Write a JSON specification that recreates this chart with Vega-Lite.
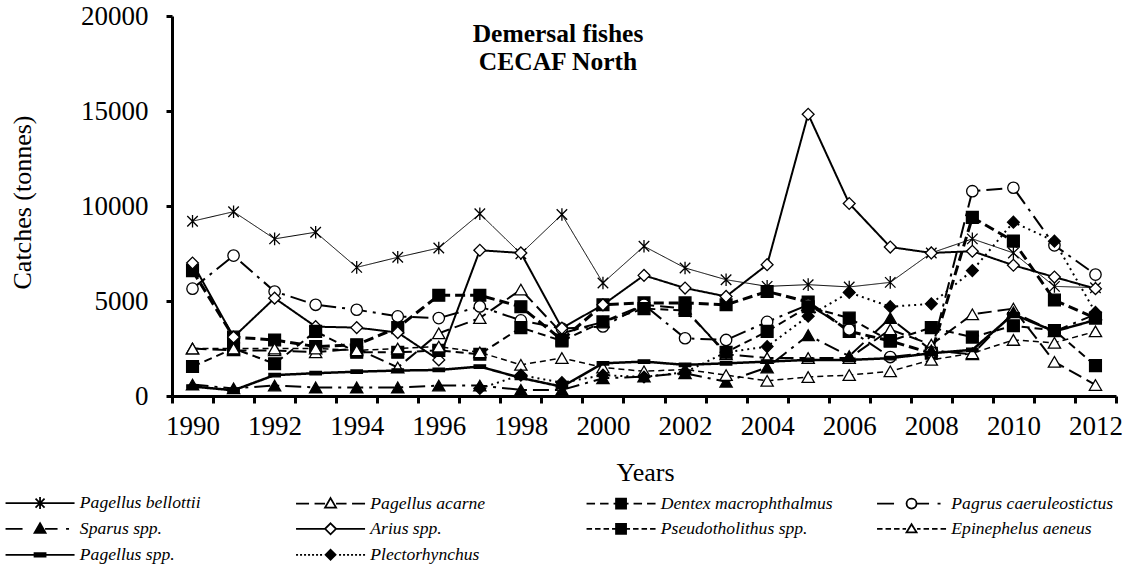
{
  "$schema": "https://vega.github.io/schema/vega-lite/v6.json",
  "width": 944,
  "height": 380,
  "autosize": "none",
  "padding": {"left": 172, "top": 16, "right": 23, "bottom": 174},
  "background": "white",
  "datasets": {
    "catches": [
      {"species": "Pagellus bellottii", "year": 1990, "catch": 9200}, {"species": "Pagellus bellottii", "year": 1991, "catch": 9700}, {"species": "Pagellus bellottii", "year": 1992, "catch": 8270}, {"species": "Pagellus bellottii", "year": 1993, "catch": 8620}, {"species": "Pagellus bellottii", "year": 1994, "catch": 6770}, {"species": "Pagellus bellottii", "year": 1995, "catch": 7300}, {"species": "Pagellus bellottii", "year": 1996, "catch": 7790}, {"species": "Pagellus bellottii", "year": 1997, "catch": 9590}, {"species": "Pagellus bellottii", "year": 1998, "catch": 7490}, {"species": "Pagellus bellottii", "year": 1999, "catch": 9550}, {"species": "Pagellus bellottii", "year": 2000, "catch": 5950}, {"species": "Pagellus bellottii", "year": 2001, "catch": 7880}, {"species": "Pagellus bellottii", "year": 2002, "catch": 6740}, {"species": "Pagellus bellottii", "year": 2003, "catch": 6120}, {"species": "Pagellus bellottii", "year": 2004, "catch": 5770}, {"species": "Pagellus bellottii", "year": 2005, "catch": 5860}, {"species": "Pagellus bellottii", "year": 2006, "catch": 5740}, {"species": "Pagellus bellottii", "year": 2007, "catch": 5980}, {"species": "Pagellus bellottii", "year": 2008, "catch": 7530}, {"species": "Pagellus bellottii", "year": 2009, "catch": 8270}, {"species": "Pagellus bellottii", "year": 2010, "catch": 7530}, {"species": "Pagellus bellottii", "year": 2011, "catch": 5770}, {"species": "Pagellus bellottii", "year": 2012, "catch": 5700},
      {"species": "Pagellus acarne", "year": 1990, "catch": 2500}, {"species": "Pagellus acarne", "year": 1991, "catch": 2400}, {"species": "Pagellus acarne", "year": 1992, "catch": 2400}, {"species": "Pagellus acarne", "year": 1993, "catch": 2300}, {"species": "Pagellus acarne", "year": 1994, "catch": 2500}, {"species": "Pagellus acarne", "year": 1995, "catch": 1500}, {"species": "Pagellus acarne", "year": 1996, "catch": 3300}, {"species": "Pagellus acarne", "year": 1997, "catch": 4100}, {"species": "Pagellus acarne", "year": 1998, "catch": 5600}, {"species": "Pagellus acarne", "year": 1999, "catch": 3300}, {"species": "Pagellus acarne", "year": 2000, "catch": 3900}, {"species": "Pagellus acarne", "year": 2001, "catch": 4800}, {"species": "Pagellus acarne", "year": 2002, "catch": 4600}, {"species": "Pagellus acarne", "year": 2003, "catch": 2200}, {"species": "Pagellus acarne", "year": 2004, "catch": 2000}, {"species": "Pagellus acarne", "year": 2005, "catch": 2000}, {"species": "Pagellus acarne", "year": 2006, "catch": 2000}, {"species": "Pagellus acarne", "year": 2007, "catch": 3500}, {"species": "Pagellus acarne", "year": 2008, "catch": 2700}, {"species": "Pagellus acarne", "year": 2009, "catch": 4300}, {"species": "Pagellus acarne", "year": 2010, "catch": 4600}, {"species": "Pagellus acarne", "year": 2011, "catch": 1800}, {"species": "Pagellus acarne", "year": 2012, "catch": 580},
      {"species": "Dentex macrophthalmus", "year": 1990, "catch": 6600}, {"species": "Dentex macrophthalmus", "year": 1991, "catch": 3100}, {"species": "Dentex macrophthalmus", "year": 1992, "catch": 2950}, {"species": "Dentex macrophthalmus", "year": 1993, "catch": 2600}, {"species": "Dentex macrophthalmus", "year": 1994, "catch": 2700}, {"species": "Dentex macrophthalmus", "year": 1995, "catch": 3600}, {"species": "Dentex macrophthalmus", "year": 1996, "catch": 5300}, {"species": "Dentex macrophthalmus", "year": 1997, "catch": 5300}, {"species": "Dentex macrophthalmus", "year": 1998, "catch": 4700}, {"species": "Dentex macrophthalmus", "year": 1999, "catch": 2950}, {"species": "Dentex macrophthalmus", "year": 2000, "catch": 4800}, {"species": "Dentex macrophthalmus", "year": 2001, "catch": 4900}, {"species": "Dentex macrophthalmus", "year": 2002, "catch": 4900}, {"species": "Dentex macrophthalmus", "year": 2003, "catch": 4800}, {"species": "Dentex macrophthalmus", "year": 2004, "catch": 5500}, {"species": "Dentex macrophthalmus", "year": 2005, "catch": 4950}, {"species": "Dentex macrophthalmus", "year": 2006, "catch": 3400}, {"species": "Dentex macrophthalmus", "year": 2007, "catch": 2900}, {"species": "Dentex macrophthalmus", "year": 2008, "catch": 2250}, {"species": "Dentex macrophthalmus", "year": 2009, "catch": 9400}, {"species": "Dentex macrophthalmus", "year": 2010, "catch": 8150}, {"species": "Dentex macrophthalmus", "year": 2011, "catch": 5050}, {"species": "Dentex macrophthalmus", "year": 2012, "catch": 4100},
      {"species": "Pagrus caeruleostictus", "year": 1990, "catch": 5650}, {"species": "Pagrus caeruleostictus", "year": 1991, "catch": 7390}, {"species": "Pagrus caeruleostictus", "year": 1992, "catch": 5500}, {"species": "Pagrus caeruleostictus", "year": 1993, "catch": 4800}, {"species": "Pagrus caeruleostictus", "year": 1994, "catch": 4540}, {"species": "Pagrus caeruleostictus", "year": 1995, "catch": 4190}, {"species": "Pagrus caeruleostictus", "year": 1996, "catch": 4100}, {"species": "Pagrus caeruleostictus", "year": 1997, "catch": 4710}, {"species": "Pagrus caeruleostictus", "year": 1998, "catch": 3980}, {"species": "Pagrus caeruleostictus", "year": 1999, "catch": 3550}, {"species": "Pagrus caeruleostictus", "year": 2000, "catch": 3660}, {"species": "Pagrus caeruleostictus", "year": 2001, "catch": 4800}, {"species": "Pagrus caeruleostictus", "year": 2002, "catch": 3040}, {"species": "Pagrus caeruleostictus", "year": 2003, "catch": 2950}, {"species": "Pagrus caeruleostictus", "year": 2004, "catch": 3900}, {"species": "Pagrus caeruleostictus", "year": 2005, "catch": 4800}, {"species": "Pagrus caeruleostictus", "year": 2006, "catch": 3500}, {"species": "Pagrus caeruleostictus", "year": 2007, "catch": 2050}, {"species": "Pagrus caeruleostictus", "year": 2008, "catch": 2300}, {"species": "Pagrus caeruleostictus", "year": 2009, "catch": 10780}, {"species": "Pagrus caeruleostictus", "year": 2010, "catch": 10960}, {"species": "Pagrus caeruleostictus", "year": 2011, "catch": 7930}, {"species": "Pagrus caeruleostictus", "year": 2012, "catch": 6390},
      {"species": "Sparus spp.", "year": 1990, "catch": 600}, {"species": "Sparus spp.", "year": 1991, "catch": 400}, {"species": "Sparus spp.", "year": 1992, "catch": 550}, {"species": "Sparus spp.", "year": 1993, "catch": 450}, {"species": "Sparus spp.", "year": 1994, "catch": 450}, {"species": "Sparus spp.", "year": 1995, "catch": 450}, {"species": "Sparus spp.", "year": 1996, "catch": 550}, {"species": "Sparus spp.", "year": 1997, "catch": 550}, {"species": "Sparus spp.", "year": 1998, "catch": 320}, {"species": "Sparus spp.", "year": 1999, "catch": 320}, {"species": "Sparus spp.", "year": 2000, "catch": 930}, {"species": "Sparus spp.", "year": 2001, "catch": 1020}, {"species": "Sparus spp.", "year": 2002, "catch": 1200}, {"species": "Sparus spp.", "year": 2003, "catch": 750}, {"species": "Sparus spp.", "year": 2004, "catch": 1500}, {"species": "Sparus spp.", "year": 2005, "catch": 3200}, {"species": "Sparus spp.", "year": 2006, "catch": 2100}, {"species": "Sparus spp.", "year": 2007, "catch": 4100}, {"species": "Sparus spp.", "year": 2008, "catch": 2400}, {"species": "Sparus spp.", "year": 2009, "catch": 2200}, {"species": "Sparus spp.", "year": 2010, "catch": 4400}, {"species": "Sparus spp.", "year": 2011, "catch": 3400}, {"species": "Sparus spp.", "year": 2012, "catch": 4300},
      {"species": "Arius spp.", "year": 1990, "catch": 7000}, {"species": "Arius spp.", "year": 1991, "catch": 3100}, {"species": "Arius spp.", "year": 1992, "catch": 5150}, {"species": "Arius spp.", "year": 1993, "catch": 3650}, {"species": "Arius spp.", "year": 1994, "catch": 3600}, {"species": "Arius spp.", "year": 1995, "catch": 3340}, {"species": "Arius spp.", "year": 1996, "catch": 1900}, {"species": "Arius spp.", "year": 1997, "catch": 7670}, {"species": "Arius spp.", "year": 1998, "catch": 7530}, {"species": "Arius spp.", "year": 1999, "catch": 3570}, {"species": "Arius spp.", "year": 2000, "catch": 4800}, {"species": "Arius spp.", "year": 2001, "catch": 6350}, {"species": "Arius spp.", "year": 2002, "catch": 5680}, {"species": "Arius spp.", "year": 2003, "catch": 5240}, {"species": "Arius spp.", "year": 2004, "catch": 6910}, {"species": "Arius spp.", "year": 2005, "catch": 14830}, {"species": "Arius spp.", "year": 2006, "catch": 10130}, {"species": "Arius spp.", "year": 2007, "catch": 7840}, {"species": "Arius spp.", "year": 2008, "catch": 7530}, {"species": "Arius spp.", "year": 2009, "catch": 7620}, {"species": "Arius spp.", "year": 2010, "catch": 6880}, {"species": "Arius spp.", "year": 2011, "catch": 6260}, {"species": "Arius spp.", "year": 2012, "catch": 5650},
      {"species": "Pseudotholithus spp.", "year": 1990, "catch": 1550}, {"species": "Pseudotholithus spp.", "year": 1991, "catch": 2500}, {"species": "Pseudotholithus spp.", "year": 1992, "catch": 1700}, {"species": "Pseudotholithus spp.", "year": 1993, "catch": 3400}, {"species": "Pseudotholithus spp.", "year": 1994, "catch": 2300}, {"species": "Pseudotholithus spp.", "year": 1995, "catch": 2300}, {"species": "Pseudotholithus spp.", "year": 1996, "catch": 2400}, {"species": "Pseudotholithus spp.", "year": 1997, "catch": 2200}, {"species": "Pseudotholithus spp.", "year": 1998, "catch": 3600}, {"species": "Pseudotholithus spp.", "year": 1999, "catch": 2900}, {"species": "Pseudotholithus spp.", "year": 2000, "catch": 3900}, {"species": "Pseudotholithus spp.", "year": 2001, "catch": 4600}, {"species": "Pseudotholithus spp.", "year": 2002, "catch": 4500}, {"species": "Pseudotholithus spp.", "year": 2003, "catch": 2300}, {"species": "Pseudotholithus spp.", "year": 2004, "catch": 3400}, {"species": "Pseudotholithus spp.", "year": 2005, "catch": 4700}, {"species": "Pseudotholithus spp.", "year": 2006, "catch": 4100}, {"species": "Pseudotholithus spp.", "year": 2007, "catch": 2900}, {"species": "Pseudotholithus spp.", "year": 2008, "catch": 3600}, {"species": "Pseudotholithus spp.", "year": 2009, "catch": 3100}, {"species": "Pseudotholithus spp.", "year": 2010, "catch": 3700}, {"species": "Pseudotholithus spp.", "year": 2011, "catch": 3450}, {"species": "Pseudotholithus spp.", "year": 2012, "catch": 1600},
      {"species": "Epinephelus aeneus", "year": 1990, "catch": 2500}, {"species": "Epinephelus aeneus", "year": 1991, "catch": 2500}, {"species": "Epinephelus aeneus", "year": 1992, "catch": 2500}, {"species": "Epinephelus aeneus", "year": 1993, "catch": 2500}, {"species": "Epinephelus aeneus", "year": 1994, "catch": 2400}, {"species": "Epinephelus aeneus", "year": 1995, "catch": 2500}, {"species": "Epinephelus aeneus", "year": 1996, "catch": 2600}, {"species": "Epinephelus aeneus", "year": 1997, "catch": 2300}, {"species": "Epinephelus aeneus", "year": 1998, "catch": 1640}, {"species": "Epinephelus aeneus", "year": 1999, "catch": 2000}, {"species": "Epinephelus aeneus", "year": 2000, "catch": 1500}, {"species": "Epinephelus aeneus", "year": 2001, "catch": 1300}, {"species": "Epinephelus aeneus", "year": 2002, "catch": 1400}, {"species": "Epinephelus aeneus", "year": 2003, "catch": 1100}, {"species": "Epinephelus aeneus", "year": 2004, "catch": 800}, {"species": "Epinephelus aeneus", "year": 2005, "catch": 1000}, {"species": "Epinephelus aeneus", "year": 2006, "catch": 1100}, {"species": "Epinephelus aeneus", "year": 2007, "catch": 1300}, {"species": "Epinephelus aeneus", "year": 2008, "catch": 1900}, {"species": "Epinephelus aeneus", "year": 2009, "catch": 2250}, {"species": "Epinephelus aeneus", "year": 2010, "catch": 2950}, {"species": "Epinephelus aeneus", "year": 2011, "catch": 2800}, {"species": "Epinephelus aeneus", "year": 2012, "catch": 3400},
      {"species": "Pagellus spp.", "year": 1990, "catch": 500}, {"species": "Pagellus spp.", "year": 1991, "catch": 300}, {"species": "Pagellus spp.", "year": 1992, "catch": 1100}, {"species": "Pagellus spp.", "year": 1993, "catch": 1200}, {"species": "Pagellus spp.", "year": 1994, "catch": 1280}, {"species": "Pagellus spp.", "year": 1995, "catch": 1340}, {"species": "Pagellus spp.", "year": 1996, "catch": 1370}, {"species": "Pagellus spp.", "year": 1997, "catch": 1550}, {"species": "Pagellus spp.", "year": 1998, "catch": 950}, {"species": "Pagellus spp.", "year": 1999, "catch": 490}, {"species": "Pagellus spp.", "year": 2000, "catch": 1720}, {"species": "Pagellus spp.", "year": 2001, "catch": 1810}, {"species": "Pagellus spp.", "year": 2002, "catch": 1640}, {"species": "Pagellus spp.", "year": 2003, "catch": 1720}, {"species": "Pagellus spp.", "year": 2004, "catch": 1810}, {"species": "Pagellus spp.", "year": 2005, "catch": 1900}, {"species": "Pagellus spp.", "year": 2006, "catch": 1900}, {"species": "Pagellus spp.", "year": 2007, "catch": 1990}, {"species": "Pagellus spp.", "year": 2008, "catch": 2250}, {"species": "Pagellus spp.", "year": 2009, "catch": 2430}, {"species": "Pagellus spp.", "year": 2010, "catch": 4300}, {"species": "Pagellus spp.", "year": 2011, "catch": 3400}, {"species": "Pagellus spp.", "year": 2012, "catch": 4000},
      {"species": "Plectorhynchus", "year": 1997, "catch": 400}, {"species": "Plectorhynchus", "year": 1998, "catch": 1100}, {"species": "Plectorhynchus", "year": 1999, "catch": 700}, {"species": "Plectorhynchus", "year": 2000, "catch": 1100}, {"species": "Plectorhynchus", "year": 2001, "catch": 1000}, {"species": "Plectorhynchus", "year": 2002, "catch": 1250}, {"species": "Plectorhynchus", "year": 2003, "catch": 2300}, {"species": "Plectorhynchus", "year": 2004, "catch": 2600}, {"species": "Plectorhynchus", "year": 2005, "catch": 4200}, {"species": "Plectorhynchus", "year": 2006, "catch": 5450}, {"species": "Plectorhynchus", "year": 2007, "catch": 4700}, {"species": "Plectorhynchus", "year": 2008, "catch": 4850}, {"species": "Plectorhynchus", "year": 2009, "catch": 6600}, {"species": "Plectorhynchus", "year": 2010, "catch": 9150}, {"species": "Plectorhynchus", "year": 2011, "catch": 8150}, {"species": "Plectorhynchus", "year": 2012, "catch": 4400}
    ]
  },
  "data": {"name": "catches"},
  "title": {
    "text": ["Demersal fishes", "CECAF North"],
    "font": "Liberation Serif",
    "fontSize": 25.5,
    "fontWeight": "bold",
    "color": "black",
    "anchor": "middle",
    "baseline": "top",
    "lineHeight": 28,
    "dx": -86,
    "dy": 69,
    "offset": -4
  },
  "encoding": {
    "x": {
      "field": "year", "type": "ordinal",
      "scale": {"type": "band", "paddingInner": 0, "paddingOuter": 0},
      "title": "Years",
      "axis": {
        "tickBand": "extent", "labelAngle": 0,
        "labelExpr": "datum.value % 2 == 0 ? datum.label : ''",
        "tickSize": 7, "tickWidth": 3, "domainWidth": 3, "labelPadding": 10,
        "labelFont": "Liberation Serif", "labelFontSize": 27, "labelColor": "black",
        "titleFont": "Liberation Serif", "titleFontSize": 26, "titleFontWeight": "normal", "titleColor": "black",
        "titleX": 473, "titleY": 76, "titleBaseline": "middle", "titleAlign": "center",
        "domainColor": "black", "tickColor": "black", "grid": false
      }
    },
    "y": {
      "field": "catch", "type": "quantitative",
      "scale": {"domain": [0, 20000], "nice": false},
      "title": "Catches (tonnes)",
      "axis": {
        "values": [0, 5000, 10000, 15000, 20000], "format": "d",
        "tickSize": 6, "tickWidth": 3, "domainWidth": 3, "labelPadding": 18,
        "labelFont": "Liberation Serif", "labelFontSize": 27, "labelColor": "black",
        "titleFont": "Liberation Serif", "titleFontSize": 26, "titleFontWeight": "normal", "titleColor": "black",
        "titleX": -150, "titleY": 186, "titleBaseline": "middle", "titleAlign": "center",
        "domainColor": "black", "tickColor": "black", "grid": false
      }
    }
  },
  "layer": [
    {
      "mark": {"type": "line", "color": "black"},
      "encoding": {
        "detail": {"field": "species"},
        "strokeDash": {
          "field": "species", "type": "nominal", "legend": null,
          "scale": {
            "domain": ["Pagellus bellottii", "Pagellus acarne", "Dentex macrophthalmus", "Pagrus caeruleostictus", "Sparus spp.", "Arius spp.", "Pseudotholithus spp.", "Epinephelus aeneus", "Pagellus spp.", "Plectorhynchus", "-"],
            "range": [[1, 0], [14, 6], [10, 5], [16, 6, 3, 6], [16, 6, 3, 6], [1, 0], [8, 5], [6, 4], [1, 0], [2, 4], [1, 0]]
          }
        },
        "strokeWidth": {
          "field": "species", "type": "nominal", "legend": null,
          "scale": {
            "type": "ordinal",
            "domain": ["Pagellus bellottii", "Pagellus acarne", "Dentex macrophthalmus", "Pagrus caeruleostictus", "Sparus spp.", "Arius spp.", "Pseudotholithus spp.", "Epinephelus aeneus", "Pagellus spp.", "Plectorhynchus", "-"],
            "range": [1, 2, 3, 2, 2, 2, 2, 1.5, 2.5, 2, 1]
          }
        }
      }
    },
    {
      "mark": {"type": "point", "stroke": "black", "strokeWidth": 1.3, "opacity": 1},
      "encoding": {
        "shape": {
          "field": "species", "type": "nominal", "legend": null,
          "scale": {
            "domain": ["Pagellus bellottii", "Pagellus acarne", "Dentex macrophthalmus", "Pagrus caeruleostictus", "Sparus spp.", "Arius spp.", "Pseudotholithus spp.", "Epinephelus aeneus", "Pagellus spp.", "Plectorhynchus", "-"],
            "range": ["M-1,-1L1,1M-1,1L1,-1M0,-1.2V1.2", "triangle-up", "square", "circle", "triangle-up", "diamond", "square", "triangle-up", "M-1,-0.3H1V0.3H-1Z", "diamond", "circle"]
          }
        },
        "fill": {
          "field": "species", "type": "nominal",
          "scale": {
            "domain": ["Pagellus bellottii", "Pagellus acarne", "Dentex macrophthalmus", "Pagrus caeruleostictus", "Sparus spp.", "Arius spp.", "Pseudotholithus spp.", "Epinephelus aeneus", "Pagellus spp.", "Plectorhynchus"],
            "range": ["white", "white", "black", "white", "black", "white", "black", "white", "black", "black"]
          },
          "legend": {
            "title": null,
            "symbolType": {"expr": "['M-6.9,0H6.9M-0.9,-0.9L0.9,0.9M-0.9,0.9L0.9,-0.9M0,-1.2V1.2', 'M-6.9,0H-4.3M-3.2,0H-1.1M1.1,0H3.2M4.3,0H6.9M0,-1.1L1.1,0.8L-1.1,0.8Z', 'M-6.9,0H-5.2M-4.2,0H-2.5M-1.5,0H-1M1,0H1.5M2.5,0H4.2M5.2,0H6.9M-1,-1H1V1H-1Z', 'M-6.9,0H-3.5M-1,0A1,1 0 1,1 1,0A1,1 0 1,1 -1,0ZM1,0H3.5M5.2,0H5.8', 'M-6.9,0H-3.5M1,0H3.5M5.2,0H5.8M0,-1.1L1.1,0.8L-1.1,0.8Z', 'M-6.9,0H-1.1M1.1,0H6.9M0,-1.1L1.1,0L0,1.1L-1.1,0Z', 'M-6.9,0H-5.8M-5.2,0H-4.1M-3.5,0H-2.4M-1.8,0H-1M1,0H1.8M2.4,0H3.5M4.1,0H5.2M5.8,0H6.9M-1,-1H1V1H-1Z', 'M-6.9,0H-5.8M-5.2,0H-4.1M-3.5,0H-2.4M-1.8,0H-1.1M1.1,0H1.8M2.4,0H3.5M4.1,0H5.2M5.8,0H6.9M0,-0.9L1,0.7L-1,0.7Z', 'M-6.9,0H6.9M-1.1,-0.35H1.1V0.35H-1.1Z', 'M-6.9,0H-6.5M-6.1,0H-5.7M-5.3,0H-4.9M-4.5,0H-4.1M-3.7,0H-3.3M-2.9,0H-2.5M-2.1,0H-1.7M-1,0L0,-1L1,0L0,1ZM1.7,0H2.1M2.5,0H2.9M3.3,0H3.7M4.1,0H4.5M4.9,0H5.3M5.7,0H6.1M6.5,0H6.9'][indexof(['Pagellus bellottii', 'Pagellus acarne', 'Dentex macrophthalmus', 'Pagrus caeruleostictus', 'Sparus spp.', 'Arius spp.', 'Pseudotholithus spp.', 'Epinephelus aeneus', 'Pagellus spp.', 'Plectorhynchus'], datum.value)]"},
            "symbolStrokeWidth": 1.8,
            "symbolStrokeColor": "black",
            "symbolSize": 100,
            "symbolDash": []
          }
        },
        "size": {
          "field": "species", "type": "nominal", "legend": null,
          "scale": {
            "type": "ordinal",
            "domain": ["Pagellus bellottii", "Pagellus acarne", "Dentex macrophthalmus", "Pagrus caeruleostictus", "Sparus spp.", "Arius spp.", "Pseudotholithus spp.", "Epinephelus aeneus", "Pagellus spp.", "Plectorhynchus", "-"],
            "range": [110, 150, 140, 130, 150, 140, 140, 150, 130, 140, 100]
          }
        }
      }
    }
  ],
  "config": {
    "view": {"stroke": null},
    "legend": {
      "orient": "none",
      "legendX": -166.5,
      "legendY": 478,
      "direction": "horizontal",
      "columns": 4,
      "gridAlign": "all",
      "columnPadding": 39.5,
      "rowPadding": 6,
      "padding": 0,
      "symbolOffset": 25.75,
      "labelOffset": 31,
      "labelFont": "Liberation Serif",
      "labelFontSize": 17.6,
      "labelFontStyle": "italic",
      "labelColor": "black",
      "labelLimit": 400
    }
  }
}
